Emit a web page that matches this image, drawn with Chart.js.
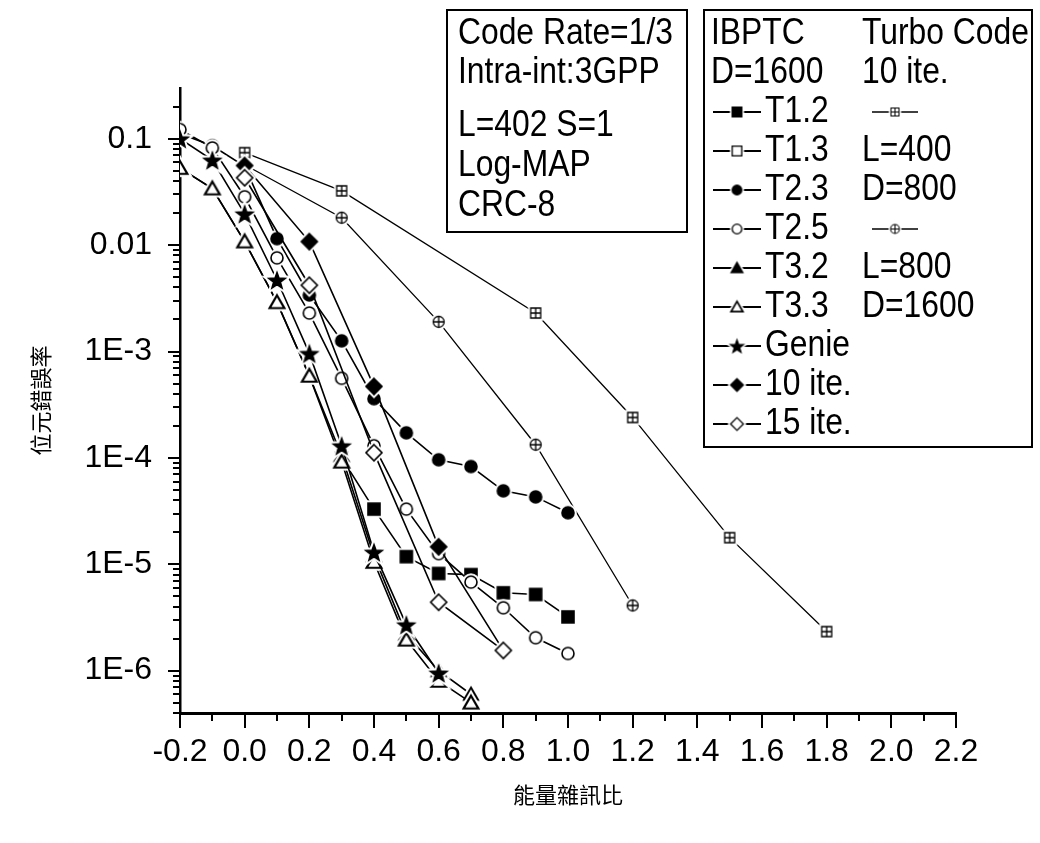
<!DOCTYPE html>
<html><head><meta charset="utf-8">
<script src="https://cdn.jsdelivr.net/npm/chart.js@4.4.1/dist/chart.umd.min.js"></script>
<style>html,body{margin:0;padding:0;background:#fff;}#wrap{width:1040px;height:843px;}</style>
</head><body><div id="wrap"><canvas id="c" width="1040" height="843"></canvas></div>
<script>
const NARROW = '"Liberation Sans Narrow", "Liberation Sans", Arial, sans-serif';
const CJK = '"Noto Sans CJK TC", "Noto Sans CJK SC", sans-serif';

// ---- data ----
const xTickLabels = ['-0.2','0.0','0.2','0.4','0.6','0.8','1.0','1.2','1.4','1.6','1.8','2.0','2.2'];
const yTickValues = [1e-6, 1e-5, 1e-4, 1e-3, 1e-2, 1e-1];
const yTickLabels = ['1E-6','1E-5','1E-4','1E-3','0.01','0.1'];
const xTitle = '能量雜訊比';
const yTitle = '位元錯誤率';

const t12X = [0.3, 0.4, 0.5, 0.6, 0.7, 0.8, 0.9, 1.0];
const t12Y = [1.0e-4, 3.3e-5, 1.18e-5, 8.2e-6, 8.0e-6, 5.4e-6, 5.2e-6, 3.2e-6];
const t13X = [];
const t13Y = [];
const t23X = [-0.2, -0.1, 0.0, 0.1, 0.2, 0.3, 0.4, 0.5, 0.6, 0.7, 0.8, 0.9, 1.0];
const t23Y = [0.112, 0.086, 0.055, 0.0115, 3.4e-3, 1.26e-3, 3.6e-4, 1.72e-4, 9.6e-5, 8.3e-5, 4.9e-5, 4.3e-5, 3.05e-5];
const t25X = [-0.2, -0.1, 0.0, 0.1, 0.2, 0.3, 0.4, 0.5, 0.6, 0.7, 0.8, 0.9, 1.0];
const t25Y = [0.122, 0.082, 0.0285, 7.6e-3, 2.3e-3, 5.6e-4, 1.3e-4, 3.3e-5, 1.26e-5, 6.8e-6, 3.9e-6, 2.04e-6, 1.45e-6];
const t32X = [-0.2, -0.1, 0.0, 0.1, 0.2, 0.3, 0.4, 0.5, 0.6, 0.7];
const t32Y = [0.053, 0.034, 0.0108, 2.9e-3, 5.9e-4, 1.05e-4, 1.2e-5, 2.2e-6, 1.0e-6, 6.0e-7];
const t33X = [-0.2, -0.1, 0.0, 0.1, 0.2, 0.3, 0.4, 0.5, 0.6, 0.7];
const t33Y = [0.053, 0.034, 0.0108, 2.9e-3, 5.9e-4, 9.2e-5, 1.05e-5, 1.95e-6, 8.0e-7, 5.0e-7];
const genieX = [-0.2, -0.1, 0.0, 0.1, 0.2, 0.3, 0.4, 0.5, 0.6];
const genieY = [0.1, 0.063, 0.0197, 4.7e-3, 9.6e-4, 1.3e-4, 1.3e-5, 2.7e-6, 9.5e-7];
const ite10X = [0.0, 0.2, 0.4, 0.6, 0.8];
const ite10Y = [0.056, 0.0108, 4.7e-4, 1.46e-5, 1.55e-6];
const ite15X = [0.0, 0.2, 0.4, 0.6, 0.8];
const ite15Y = [0.043, 4.2e-3, 1.12e-4, 4.4e-6, 1.55e-6];
const tcL400X = [0.0, 0.3, 0.9, 1.2, 1.5, 1.8];
const tcL400Y = [0.074, 0.0324, 2.3e-3, 2.4e-4, 1.78e-5, 2.33e-6];
const tcL800X = [0.0, 0.3, 0.6, 0.9, 1.2];
const tcL800Y = [0.057, 0.0181, 1.9e-3, 1.33e-4, 4.1e-6];

const infoLines = ['Code Rate=1/3', 'Intra-int:3GPP', 'L=402 S=1', 'Log-MAP', 'CRC-8'];
const legendHeadLeft = ['IBPTC', 'D=1600'];
const legendRight = ['Turbo Code', '10 ite.', null, 'L=400', 'D=800', null, 'L=800', 'D=1600'];

// ---- markers ----
function makeMarker(kind, s) {
  const halo = 2 * s;
  const size = Math.ceil(2 * (11 * s + halo + 2));
  const cv = document.createElement('canvas');
  cv.width = cv.height = size;
  const c = cv.getContext('2d');
  const cx = size / 2, cy = size / 2;
  const filled = ['square', 'circle', 'tri', 'star', 'diamond'].includes(kind);
  let lw = 1.6 * s;
  function path() {
    c.beginPath();
    if (kind === 'square' || kind === 'squareOpen') {
      const h = 6 * s; c.rect(cx - h, cy - h, 2 * h, 2 * h);
    } else if (kind === 'circle' || kind === 'circleOpen') {
      c.arc(cx, cy, 6 * s, 0, Math.PI * 2);
    } else if (kind === 'tri' || kind === 'triOpen') {
      const R = 8.5 * s;
      for (let i = 0; i < 3; i++) {
        const a = -Math.PI / 2 + i * 2 * Math.PI / 3;
        const px = cx + R * Math.cos(a), py = cy + 1.5 * s + R * Math.sin(a);
        i ? c.lineTo(px, py) : c.moveTo(px, py);
      }
      c.closePath();
    } else if (kind === 'star') {
      const Ro = 8.5 * s, Ri = 3.5 * s;
      for (let i = 0; i < 10; i++) {
        const a = -Math.PI / 2 + i * Math.PI / 5;
        const r = i % 2 ? Ri : Ro;
        const px = cx + r * Math.cos(a), py = cy + 1 * s + r * Math.sin(a);
        i ? c.lineTo(px, py) : c.moveTo(px, py);
      }
      c.closePath();
    } else if (kind === 'diamond' || kind === 'diamondOpen') {
      const R = 8 * s;
      c.moveTo(cx, cy - R); c.lineTo(cx + R, cy); c.lineTo(cx, cy + R); c.lineTo(cx - R, cy); c.closePath();
    } else if (kind === 'boxPlus') {
      const h = 5 * s; c.rect(cx - h, cy - h, 2 * h, 2 * h);
    } else if (kind === 'circlePlus') {
      c.arc(cx, cy, 5.5 * s, 0, Math.PI * 2);
    }
  }
  if (kind === 'triOpen') lw = 2.2 * s;
  if (kind === 'boxPlus' || kind === 'circlePlus') lw = 1.3 * s;
  c.lineJoin = 'miter';
  path();
  c.lineWidth = lw + 2 * halo; c.strokeStyle = '#fff'; c.stroke();
  c.fillStyle = '#fff'; c.fill();
  path();
  c.fillStyle = filled ? '#000' : '#fff'; c.fill();
  c.lineWidth = lw; c.strokeStyle = '#000'; c.stroke();
  if (kind === 'boxPlus' || kind === 'circlePlus') {
    const h = kind === 'boxPlus' ? 5 * s : 5.5 * s;
    c.beginPath();
    c.moveTo(cx - h, cy); c.lineTo(cx + h, cy);
    c.moveTo(cx, cy - h); c.lineTo(cx, cy + h);
    c.lineWidth = lw; c.stroke();
  }
  return cv;
}

function pts(xs, ys) { return xs.map((x, i) => ({ x: x, y: ys[i] })); }

const series = [
  { label: 'T1.2', xs: t12X, ys: t12Y, kind: 'square', order: 7, lw: 1.6 },
  { label: 'T1.3', xs: t13X, ys: t13Y, kind: 'squareOpen', order: 8, lw: 1.6 },
  { label: 'T2.3', xs: t23X, ys: t23Y, kind: 'circle', order: 6, lw: 1.6 },
  { label: 'T2.5', xs: t25X, ys: t25Y, kind: 'circleOpen', order: 5, lw: 1.6 },
  { label: 'T3.2', xs: t32X, ys: t32Y, kind: 'tri', order: 2, lw: 1.6 },
  { label: 'T3.3', xs: t33X, ys: t33Y, kind: 'triOpen', order: 1, lw: 1.6 },
  { label: 'Genie', xs: genieX, ys: genieY, kind: 'star', order: 0, lw: 1.6 },
  { label: '10 ite.', xs: ite10X, ys: ite10Y, kind: 'diamond', order: 4, lw: 1.6 },
  { label: '15 ite.', xs: ite15X, ys: ite15Y, kind: 'diamondOpen', order: 3, lw: 1.6 },
  { label: 'Turbo Code L=400 D=800', xs: tcL400X, ys: tcL400Y, kind: 'boxPlus', order: 9, lw: 1.3 },
  { label: 'Turbo Code L=800 D=1600', xs: tcL800X, ys: tcL800Y, kind: 'circlePlus', order: 10, lw: 1.3 }
];
series.forEach(s => { s.marker = makeMarker(s.kind, 1); s.legendMarker = makeMarker(s.kind, 0.8); });

const datasets = series.map(s => ({
  label: s.label,
  data: pts(s.xs, s.ys),
  borderColor: '#000',
  backgroundColor: '#000',
  borderWidth: s.lw,
  pointStyle: s.marker,
  pointRadius: 6,
  tension: 0,
  fill: false,
  order: s.order
}));

// ---- plugins ----
const minorTicks = {
  id: 'minorTicks',
  afterDraw(chart) {
    const { ctx } = chart; const x = chart.scales.x, y = chart.scales.y;
    ctx.save(); ctx.strokeStyle = '#000'; ctx.lineWidth = 2; ctx.beginPath();
    for (let i = 0; i < xTickLabels.length - 1; i++) {
      const v = (parseFloat(xTickLabels[i]) + parseFloat(xTickLabels[i + 1])) / 2;
      const px = Math.round(x.getPixelForValue(v));
      ctx.moveTo(px, x.top); ctx.lineTo(px, x.top + 8);
    }
    for (let e = -7; e <= 0; e++) for (let m = 2; m <= 9; m++) {
      const v = m * Math.pow(10, e);
      if (v < y.min || v > y.max) continue;
      const py = Math.round(y.getPixelForValue(v));
      ctx.moveTo(y.right - 7, py); ctx.lineTo(y.right, py);
    }
    ctx.stroke(); ctx.restore();
  }
};

function narrowText(ctx, t, x, y) {
  ctx.save(); ctx.translate(x, y); ctx.scale(0.86, 1); ctx.fillText(t, 0, 0); ctx.restore();
}

const boxes = {
  id: 'boxes',
  afterDraw(chart) {
    const ctx = chart.ctx;
    ctx.save();
    ctx.lineWidth = 2; ctx.strokeStyle = '#000';
    ctx.fillStyle = '#fff';
    ctx.fillRect(447, 10, 240, 222);
    ctx.strokeRect(447, 10, 240, 222);
    ctx.fillRect(704, 10, 328, 437);
    ctx.strokeRect(704, 10, 328, 437);
    ctx.fillStyle = '#000';
    ctx.font = '37px ' + NARROW;
    ctx.textBaseline = 'middle'; ctx.textAlign = 'left';
    const infoY = [34, 73, 126, 166, 206];
    infoLines.forEach((t, i) => narrowText(ctx, t, 458, infoY[i]));
    const rowY = i => 34 + 39 * i;
    legendHeadLeft.forEach((t, i) => narrowText(ctx, t, 711, rowY(i)));
    for (let i = 0; i < 9; i++) {
      const s = series[i]; const y = rowY(i + 2);
      ctx.beginPath(); ctx.moveTo(713, y); ctx.lineTo(761, y); ctx.lineWidth = 1.8; ctx.stroke();
      const m = s.legendMarker; ctx.drawImage(m, 737 - m.width / 2, y - m.height / 2);
      narrowText(ctx, s.label, 765, y);
    }
    let mi = 9;
    legendRight.forEach((t, i) => {
      const y = rowY(i);
      if (t === null) {
        const s = series[mi++];
        ctx.beginPath(); ctx.moveTo(872, y); ctx.lineTo(918, y); ctx.lineWidth = 1.3; ctx.stroke();
        const m = s.legendMarker; ctx.drawImage(m, 895 - m.width / 2, y - m.height / 2);
      } else narrowText(ctx, t, 862, y);
    });
    ctx.restore();
  }
};

new Chart(document.getElementById('c'), {
  type: 'line',
  data: { datasets: datasets },
  options: {
    responsive: false, animation: false, devicePixelRatio: 1,
    layout: { padding: { top: 88, right: 84, left: 0, bottom: 0 } },
    plugins: { legend: { display: false }, tooltip: { enabled: false } },
    scales: {
      x: {
        type: 'linear', min: -0.2, max: 2.2,
        afterBuildTicks: sc => { sc.ticks = xTickLabels.map(t => ({ value: parseFloat(t) })); },
        afterFit: sc => { sc.height = 130; },
        ticks: { autoSkip: false, maxRotation: 0, padding: 5, color: '#000',
          font: { family: NARROW, size: 32 },
          callback: (v, i) => xTickLabels[i] },
        grid: { drawOnChartArea: false, drawTicks: true, tickLength: 15, lineWidth: 2, color: '#000', tickColor: '#000' },
        border: { display: true, color: '#000', width: 3 },
        title: { display: true, text: xTitle, color: '#000', font: { family: CJK, size: 22 }, padding: { top: 0, bottom: 35 } }
      },
      y: {
        type: 'logarithmic', min: 4e-7, max: 0.3,
        afterBuildTicks: sc => { sc.ticks = yTickValues.map(v => ({ value: v })); },
        afterFit: sc => { sc.width = 180; },
        ticks: { autoSkip: false, padding: 16, color: '#000',
          font: { family: NARROW, size: 32 },
          callback: (v, i) => yTickLabels[i] },
        grid: { drawOnChartArea: false, drawTicks: true, tickLength: 12, lineWidth: 2, color: '#000', tickColor: '#000' },
        border: { display: true, color: '#000', width: 2.5 },
        title: { display: true, text: yTitle, color: '#000', font: { family: CJK, size: 22 }, padding: { top: 27, bottom: 0 } }
      }
    }
  },
  plugins: [minorTicks, boxes]
});
</script></body></html>
